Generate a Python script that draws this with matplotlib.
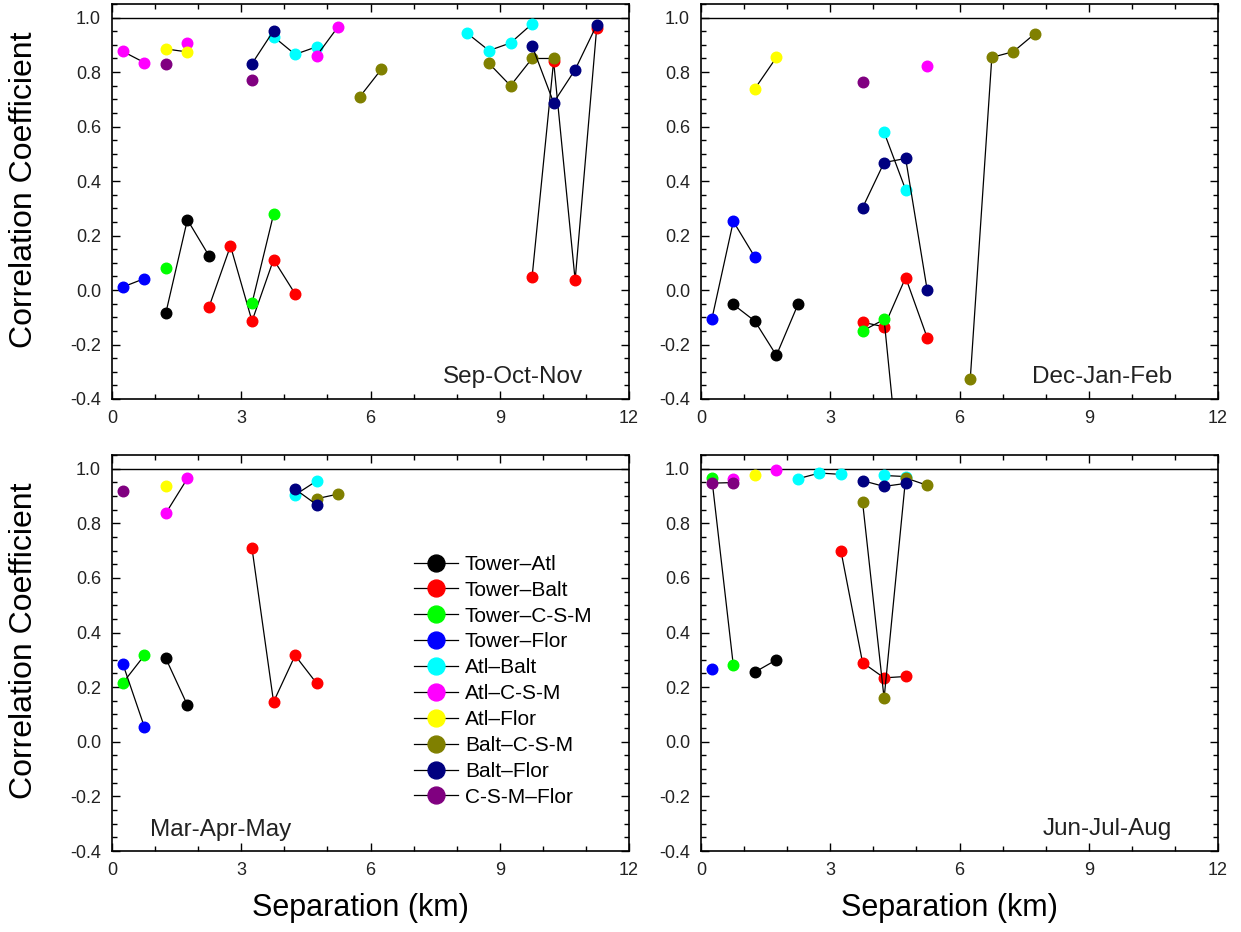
import numpy as np
import matplotlib
matplotlib.use("Agg")
import matplotlib.pyplot as plt
from matplotlib.ticker import MultipleLocator, FormatStrFormatter

plt.rcParams['font.family'] = ['Liberation Sans', 'DejaVu Sans']
plt.rcParams['axes.unicode_minus'] = False

# station pairs and their symbol colours
pairs = ['Tower–Atl', 'Tower–Balt', 'Tower–C-S-M', 'Tower–Flor', 'Atl–Balt',
         'Atl–C-S-M', 'Atl–Flor', 'Balt–C-S-M', 'Balt–Flor', 'C-S-M–Flor']
colors = ['#000000', '#ff0000', '#00ff00', '#0000ff', '#00ffff',
          '#ff00ff', '#ffff00', '#808000', '#000080', '#800080']

# separation bins (km)
bins = np.arange(0.25, 12.0, 0.5)

# correlation per pair: (separation, coefficient)
son = {
    'Tower–Atl': ([1.25, 1.75, 2.25], [-0.084, 0.258, 0.126]),
    'Tower–Balt': ([2.25, 2.75, 3.25, 3.75, 4.25, 9.75, 10.25, 10.75, 11.25],
                   [-0.063, 0.162, -0.114, 0.112, -0.014, 0.047, 0.840, 0.036, 0.962]),
    'Tower–C-S-M': ([1.25, 3.25, 3.75], [0.082, -0.048, 0.278]),
    'Tower–Flor': ([0.25, 0.75], [0.011, 0.042]),
    'Atl–Balt': ([3.75, 4.25, 4.75, 8.25, 8.75, 9.25, 9.75],
                 [0.930, 0.865, 0.893, 0.942, 0.879, 0.907, 0.977]),
    'Atl–C-S-M': ([0.25, 0.75, 1.75, 4.75, 5.25], [0.876, 0.835, 0.907, 0.860, 0.967]),
    'Atl–Flor': ([1.25, 1.75], [0.885, 0.874]),
    'Balt–C-S-M': ([5.75, 6.25, 8.75, 9.25, 9.75, 10.25],
                   [0.709, 0.810, 0.832, 0.750, 0.850, 0.850]),
    'Balt–Flor': ([3.25, 3.75, 9.75, 10.25, 10.75, 11.25],
                  [0.831, 0.952, 0.897, 0.688, 0.809, 0.973]),
    'C-S-M–Flor': ([1.25, 3.25], [0.831, 0.771]),
}

djf = {
    'Tower–Atl': ([0.75, 1.25, 1.75, 2.25], [-0.053, -0.114, -0.240, -0.053]),
    'Tower–Balt': ([3.75, 4.25, 4.75, 5.25], [-0.118, -0.135, 0.046, -0.175]),
    'Tower–C-S-M': ([3.75, 4.25, 4.75], [-0.150, -0.108, -0.900]),
    'Tower–Flor': ([0.25, 0.75, 1.25], [-0.108, 0.252, 0.121]),
    'Atl–Balt': ([4.25, 4.75], [0.579, 0.368]),
    'Atl–C-S-M': ([5.25], [0.821]),
    'Atl–Flor': ([1.25, 1.75], [0.739, 0.854]),
    'Balt–C-S-M': ([6.25, 6.75, 7.25, 7.75], [-0.326, 0.854, 0.875, 0.941]),
    'Balt–Flor': ([3.75, 4.25, 4.75, 5.25], [0.302, 0.468, 0.483, 0.000]),
    'C-S-M–Flor': ([3.75], [0.765]),
}

mam = {
    'Tower–Atl': ([1.25, 1.75], [0.305, 0.134]),
    'Tower–Balt': ([3.25, 3.75, 4.25, 4.75], [0.708, 0.146, 0.316, 0.214]),
    'Tower–C-S-M': ([0.25, 0.75], [0.215, 0.316]),
    'Tower–Flor': ([0.25, 0.75], [0.286, 0.055]),
    'Atl–Balt': ([4.25, 4.75], [0.904, 0.955]),
    'Atl–C-S-M': ([1.25, 1.75], [0.837, 0.964]),
    'Atl–Flor': ([1.25], [0.935]),
    'Balt–C-S-M': ([4.75, 5.25], [0.890, 0.907]),
    'Balt–Flor': ([4.25, 4.75], [0.925, 0.868]),
    'C-S-M–Flor': ([0.25], [0.919]),
}

jja = {
    'Tower–Atl': ([1.25, 1.75], [0.255, 0.300]),
    'Tower–Balt': ([3.25, 3.75, 4.25, 4.75], [0.697, 0.290, 0.234, 0.239]),
    'Tower–C-S-M': ([0.25, 0.75], [0.966, 0.280]),
    'Tower–Flor': ([0.25], [0.266]),
    'Atl–Balt': ([2.25, 2.75, 3.25, 4.25, 4.75], [0.963, 0.984, 0.979, 0.975, 0.971]),
    'Atl–C-S-M': ([0.75, 1.75], [0.963, 0.995]),
    'Atl–Flor': ([1.25], [0.975]),
    'Balt–C-S-M': ([3.75, 4.25, 4.75, 5.25], [0.878, 0.159, 0.966, 0.939]),
    'Balt–Flor': ([3.75, 4.25, 4.75], [0.956, 0.935, 0.946]),
    'C-S-M–Flor': ([0.25, 0.75], [0.947, 0.949]),
}

seasons = ['Sep-Oct-Nov', 'Dec-Jan-Feb', 'Mar-Apr-May', 'Jun-Jul-Aug']
panels = [son, djf, mam, jja]

W, H = 1241, 932
fig = plt.figure(figsize=(W / 100, H / 100), dpi=100)

# axes boxes in pixels: left, top, right, bottom
boxes = [(112, 4, 629, 399), (701, 4, 1218, 399),
         (112, 455, 629, 851), (701, 455, 1218, 851)]

axes = []
for (l, t, r, b), data, season in zip(boxes, panels, seasons):
    ax = fig.add_axes([l / W, 1 - b / H, (r - l) / W, (b - t) / H])
    axes.append(ax)
    ax.axhline(1.0, color='k', lw=1.0, zorder=1)
    for name, c in zip(pairs, colors):
        xs, ys = data[name]
        vals = np.full(bins.size, np.nan)
        for x, y in zip(xs, ys):
            vals[np.argmin(np.abs(bins - x))] = y
        ax.plot(bins, vals, color='k', lw=0.9, marker='o', ms=7.6,
                mfc=c, mec=c, label=name, zorder=3)
    ax.set_xlim(0, 12)
    ax.set_ylim(-0.4, 1.05)
    ax.xaxis.set_major_locator(MultipleLocator(3))
    ax.xaxis.set_minor_locator(MultipleLocator(1))
    ax.yaxis.set_major_locator(MultipleLocator(0.2))
    ax.yaxis.set_minor_locator(MultipleLocator(0.05))
    ax.yaxis.set_major_formatter(FormatStrFormatter('%.1f'))
    ax.tick_params(which='both', direction='in', top=True, right=True,
                   labelsize=13, pad=8, labelcolor='#222222', width=1.0)
    ax.tick_params(which='major', length=6)
    ax.tick_params(which='minor', length=3.5)
    for sp in ax.spines.values():
        sp.set_linewidth(1.2)
    if season == 'Mar-Apr-May':
        ax.text(0.0735, 0.053, season, transform=ax.transAxes, fontsize=17.5,
                ha='left', va='center', color='#222222')
    else:
        ax.text(0.911, 0.056, season, transform=ax.transAxes, fontsize=17.5,
                ha='right', va='center', color='#222222')

axes[2].legend(loc='upper left', bbox_to_anchor=(0.584, 0.748), frameon=False,
               fontsize=15, markerscale=1.6, handlelength=2.1, handletextpad=0.35,
               labelspacing=0.33, borderpad=0, borderaxespad=0)

for yc in (190, 641):
    fig.text(24 / W, 1 - yc / H, 'Correlation Coefficient', rotation=90,
             ha='center', va='center', fontsize=23)
for xc in (360, 949):
    fig.text(xc / W, 1 - 908 / H, 'Separation (km)', ha='center', va='center',
             fontsize=22)

fig.savefig('out.png', dpi=100)
